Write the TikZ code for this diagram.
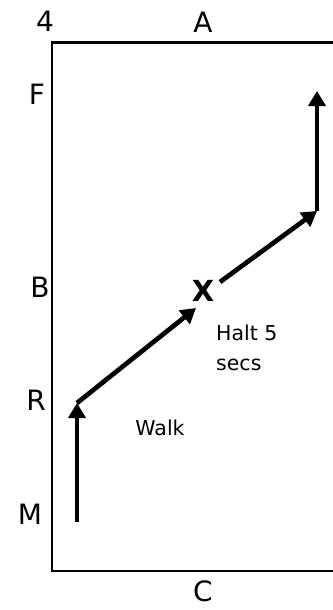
\documentclass[tikz,border=0pt]{standalone}
\usepackage{fontspec}
\setmainfont{DejaVu Sans}
\usetikzlibrary{arrows.meta}

\tikzset{
  letter/.style={inner sep=0pt,font=\fontsize{28}{32}\selectfont},
  note/.style={inner sep=0pt,font=\fontsize{20.5}{30}\selectfont,align=left},
  route/.style={line width=4.7pt,-{Triangle[length=15pt,width=17pt]}}
}

\begin{document}
\begin{tikzpicture}[x=1pt,y=-1pt]
  \useasboundingbox (0,0) rectangle (332,610);
  % arena
  \draw[line width=2.5pt] (334,42.5)--(52,42.5)--(52,571)--(334,571);
  % markers
  \node[letter] (four) at (45,21) {4};
  \node[letter] (a) at (203,22) {A};
  \node[letter] (f) at (37,94) {F};
  \node[letter] (b) at (40,287) {B};
  \node[letter] (r) at (36,400) {R};
  \node[letter] (m) at (30,514) {M};
  \node[letter] (c) at (203,591) {C};
  % the route
  \coordinate (start) at (77,522);
  \coordinate (turn1) at (77,403);
  \coordinate (halt) at (196,308);
  \coordinate (leave) at (220,282);
  \coordinate (turn2) at (317,211);
  \coordinate (end) at (317,91);
  \draw[route] (start)--(turn1);
  \draw[route] (turn1)--(halt);
  \draw[route] (leave)--(turn2);
  \draw[route] (turn2)--(end);
  \node[inner sep=0pt,font=\fontsize{29}{32}\selectfont\bfseries] (x) at (203,291) {X};
  \node[note] (walk) at (160,428) {Walk};
  \node[note,anchor=north west] (wait) at (216,325) {Halt 5\\secs};
\end{tikzpicture}
\end{document}
